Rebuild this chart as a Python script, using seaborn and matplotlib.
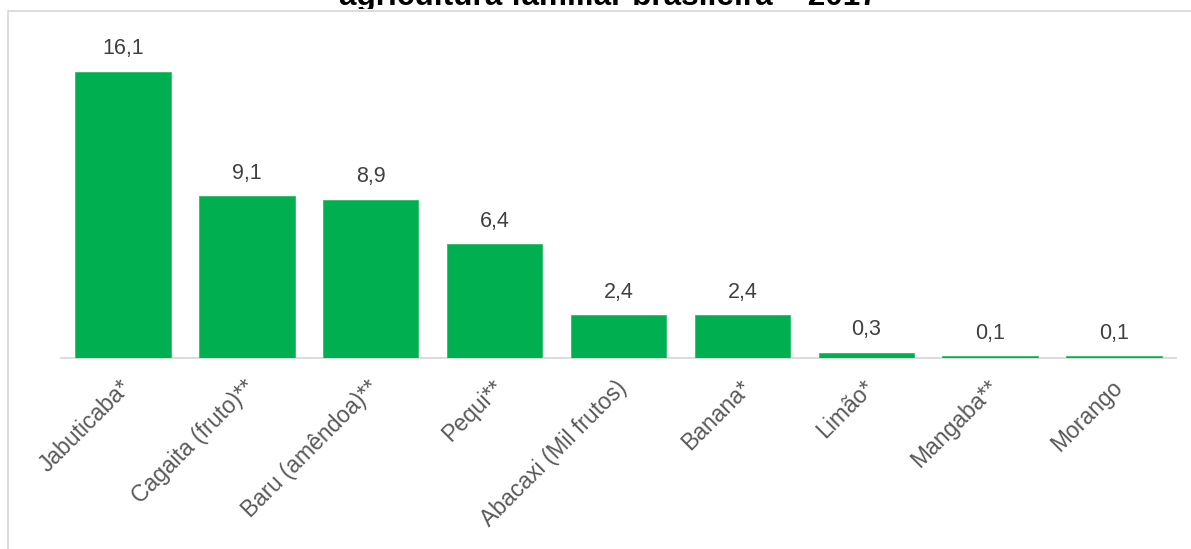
import matplotlib
matplotlib.use("Agg")
import matplotlib.pyplot as plt
import seaborn as sns
import pandas as pd
from matplotlib.patches import Rectangle
from matplotlib.transforms import Bbox, ScaledTranslation

produtos = ["Jabuticaba*", "Cagaita (fruto)**", "Baru (amêndoa)**", "Pequi**",
            "Abacaxi (Mil frutos)", "Banana*", "Limão*", "Mangaba**", "Morango"]
valores = [16.1, 9.1, 8.9, 6.4, 2.4, 2.4, 0.3, 0.1, 0.1]
titulo = "agricultura familiar brasileira – 2017"

df = pd.DataFrame({"produto": produtos, "valor": valores})

sns.set_theme(style="white")
plt.rcParams["font.family"] = ["Liberation Sans", "DejaVu Sans"]

W, H = 1191, 549
fig = plt.figure(figsize=(W / 100, H / 100), dpi=100)

# chart frame (partially visible border)
fig.patches.append(Rectangle((8 / W, -0.1), 1.2, 1 - 11 / H + 0.1,
                             transform=fig.transFigure, fill=False,
                             edgecolor="#d9d9d9", linewidth=1.3))

# title, last line only; clipped above the frame
t = fig.text(608 / W, 1 - 5 / H, titulo, ha="center", va="baseline",
             fontsize=22.7, fontweight="bold", color="black")
t.set_clip_box(Bbox.from_extents(0, H - 9, W, H))
t.set_clip_on(True)

left, right = 61 / W, 1176 / W
bottom, top = 1 - 358 / H, 1 - 38 / H
ax = fig.add_axes([left, bottom, right - left, top - bottom])

sns.barplot(data=df, x="produto", y="valor", color="#00B050", width=0.77,
            saturation=1, ax=ax, zorder=3, edgecolor="#2ebd6b", linewidth=0.6)
ax.set_xlim(-0.5, len(produtos) - 0.5)
ax.set_ylim(0, 18)

for i, v in enumerate(valores):
    ax.annotate(f"{v:.1f}".replace(".", ","), (i, v), xytext=(0, 12.5),
                textcoords="offset points", ha="center", va="baseline",
                fontsize=15.5, color="#404040")

for s in ["top", "right", "left"]:
    ax.spines[s].set_visible(False)
ax.spines["bottom"].set_color("#d9d9d9")
ax.spines["bottom"].set_linewidth(1.3)
ax.spines["bottom"].set_zorder(1)
ax.set_yticks([])
ax.set_xlabel("")
ax.set_ylabel("")
ax.tick_params(axis="x", length=0, pad=13)
ax.set_xticks(range(len(produtos)))
ax.set_xticklabels(produtos, rotation=45, ha="right", rotation_mode="anchor",
                   fontsize=16.5, color="#595959")
shift = ScaledTranslation(-3 / 100, 0, fig.dpi_scale_trans)
for lbl in ax.get_xticklabels():
    lbl.set_transform(lbl.get_transform() + shift)

fig.savefig("out.png", dpi=100)
